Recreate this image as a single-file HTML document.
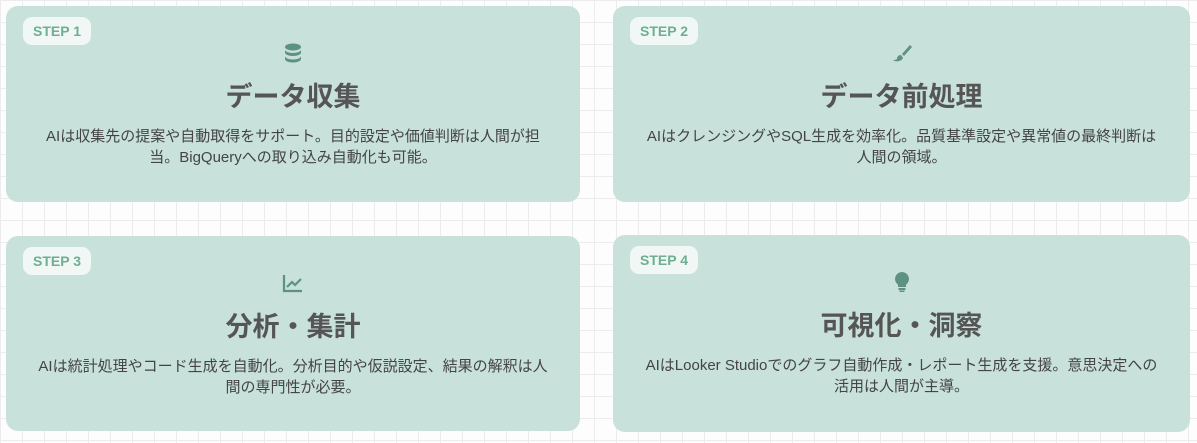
<!DOCTYPE html>
<html><head><meta charset="utf-8"><style>
body{margin:0;width:1197px;height:443px;overflow:hidden;background-color:#fdfdfd;
background-image:linear-gradient(#ececec 1px,transparent 1px),linear-gradient(90deg,#ececec 1px,transparent 1px);background-size:22px 22px;
font-family:"Liberation Sans","Noto Sans CJK JP",sans-serif;position:relative}
.card{position:absolute;width:574px;height:196px;background:#c8e1da;border-radius:12px}
.badge{position:absolute;left:17px;top:11px;width:68px;height:28px;border-radius:9px;background:rgba(255,255,255,.72);color:#6fae93;font-weight:bold;font-size:14px;line-height:28px;text-align:center}
.icon{position:absolute;left:0;right:0;top:36px;height:22px;display:flex;justify-content:center}
.title{position:absolute;left:0;right:0;top:73px;text-align:center;font-size:27px;font-weight:bold;color:#555;line-height:36px}
.desc{position:absolute;left:10px;right:10px;top:120px;text-align:center;font-size:15px;color:#444;line-height:21px}
</style></head><body>
<div class="card" style="left:6px;top:6px">
<div class="badge">STEP 1</div>
<div class="icon"><svg width="18" height="22" viewBox="0 0 18 22"><ellipse cx="9" cy="5" rx="8" ry="3.5" fill="#5d9181"/><path d="M1 7.5v3c0 2 3.6 3.5 8 3.5s8-1.5 8-3.5v-3c0 2-3.6 3.5-8 3.5s-8-1.5-8-3.5z" fill="#5d9181"/><path d="M1 14v3c0 2 3.6 3.5 8 3.5s8-1.5 8-3.5v-3c0 2-3.6 3.5-8 3.5s-8-1.5-8-3.5z" fill="#5d9181"/></svg></div>
<div class="title">データ収集</div>
<div class="desc">AIは収集先の提案や自動取得をサポート。目的設定や価値判断は人間が担<br>当。BigQueryへの取り込み自動化も可能。</div>
</div>
<div class="card" style="left:613px;top:6px;width:577px">
<div class="badge">STEP 2</div>
<div class="icon"><svg width="20" height="22" viewBox="0 0 20 22"><path d="M18 3l-8 9 2 2 8-9z" fill="#5d9181"/><path d="M9 13c-3 0-4 2-4 4-1 1-3 1-4 1 2 2 8 2 10-2z" fill="#5d9181"/></svg></div>
<div class="title">データ前処理</div>
<div class="desc">AIはクレンジングやSQL生成を効率化。品質基準設定や異常値の最終判断は<br>人間の領域。</div>
</div>
<div class="card" style="left:6px;top:236px;height:195px">
<div class="badge">STEP 3</div>
<div class="icon"><svg width="22" height="22" viewBox="0 0 22 22"><path d="M2 3v16h18" stroke="#5d9181" stroke-width="2.2" fill="none"/><path d="M5 15l5-5 3 3 6-6" stroke="#5d9181" stroke-width="2.2" fill="none"/></svg></div>
<div class="title">分析・集計</div>
<div class="desc">AIは統計処理やコード生成を自動化。分析目的や仮説設定、結果の解釈は人<br>間の専門性が必要。</div>
</div>
<div class="card" style="left:613px;top:235px;width:577px;height:197px">
<div class="badge">STEP 4</div>
<div class="icon"><svg width="16" height="22" viewBox="0 0 16 22"><path d="M8 1a7 7 0 0 0-4 12.7V16h8v-2.3A7 7 0 0 0 8 1z" fill="#5d9181"/><rect x="4.5" y="17" width="7" height="2" fill="#5d9181"/><rect x="5.5" y="19.5" width="5" height="1.5" fill="#5d9181"/></svg></div>
<div class="title">可視化・洞察</div>
<div class="desc">AIはLooker Studioでのグラフ自動作成・レポート生成を支援。意思決定への<br>活用は人間が主導。</div>
</div>
</body></html>
